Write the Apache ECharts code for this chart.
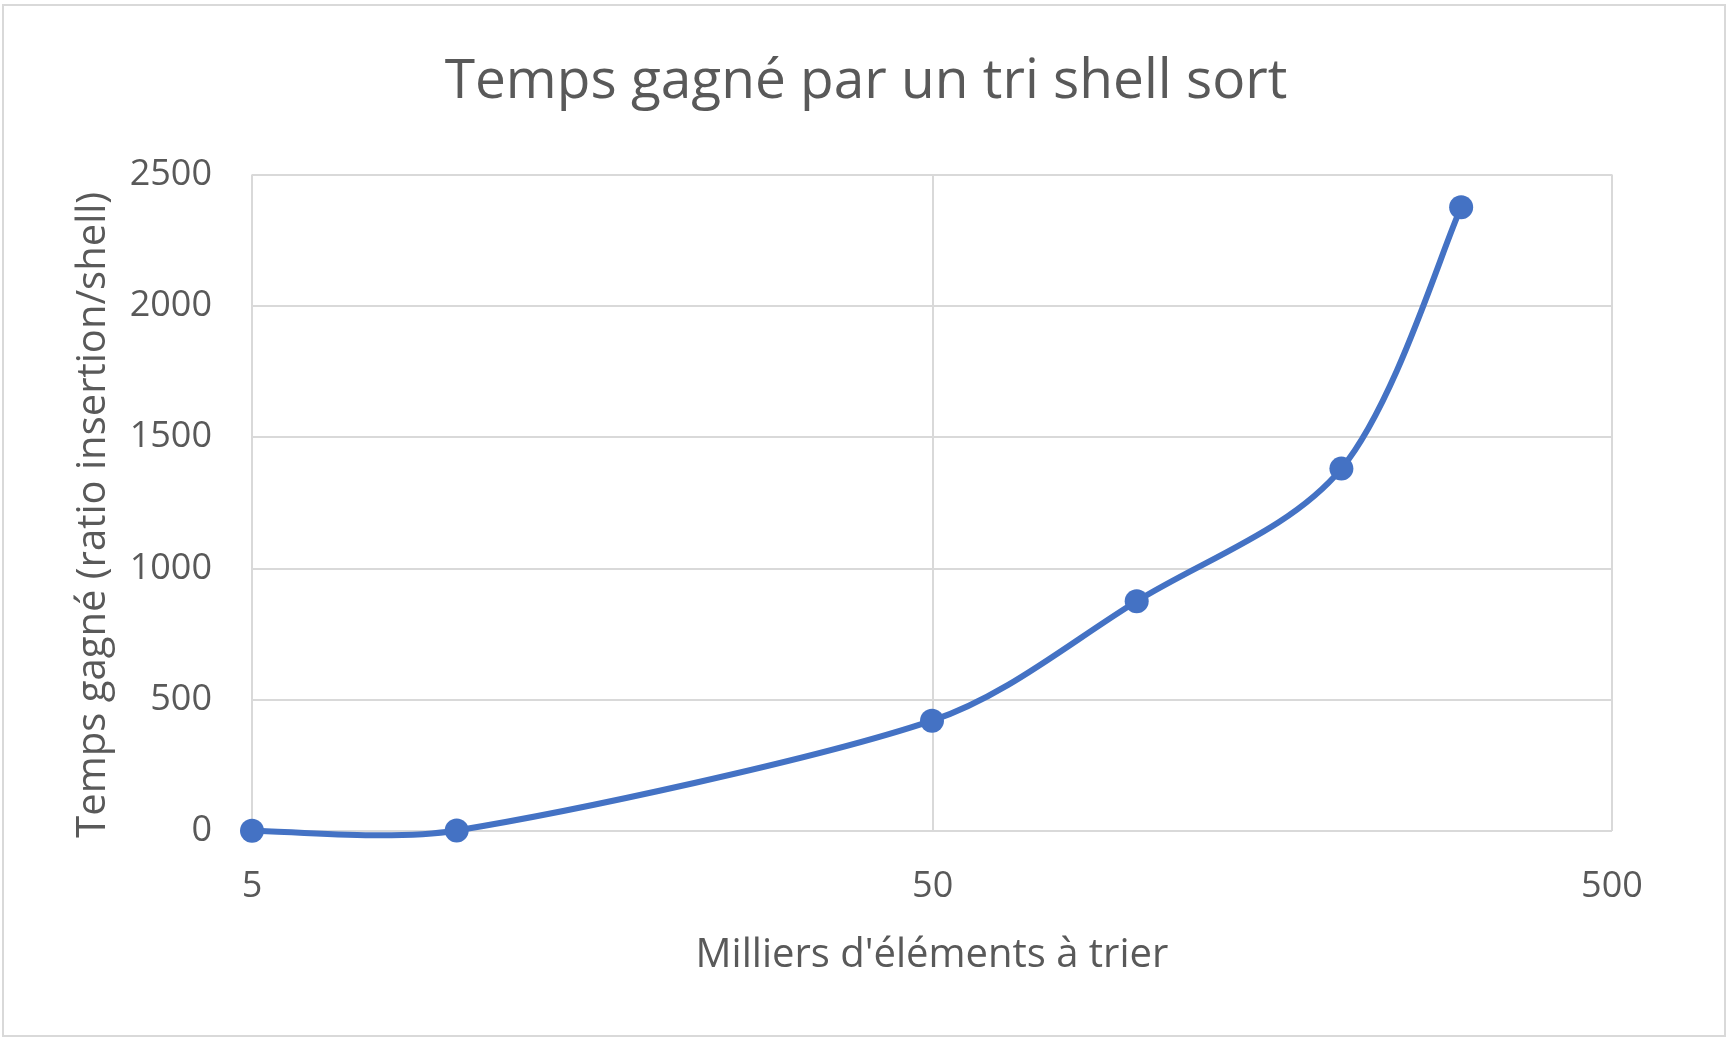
<!DOCTYPE html>
<html>
<head>
<meta charset="utf-8">
<script src="https://cdn.jsdelivr.net/npm/echarts@6/dist/echarts.min.js"></script>
<style>
html,body{margin:0;padding:0;background:#fff;}
#chart{width:1732px;height:1045px;}
</style>
</head>
<body>
<div id="chart"></div>
<script>
const titleText = "Temps gagné par un tri shell sort";
const xAxisTitle = "Milliers d'éléments à trier";
const yAxisTitle = "Temps gagné (ratio insertion/shell)";
const elements = [5, 10, 50, 100, 200, 300];
const ratios = [1, 2, 420, 875, 1380, 2375];

const textColor = '#595959';
const gridColor = '#d9d9d9';
const lineColor = '#4472C4';
const font = 'Open Sans';

const points = elements.map((e, i) => [e, ratios[i]]);

function dist(a, b) { return Math.hypot(a[0] - b[0], a[1] - b[1]) || 1e-6; }

// control points for point c with neighbours a (prev) and b (next)
function ctrl(a, c, b) {
  const tx = b[0] - a[0], ty = b[1] - a[1];
  const dp = dist(a, c), dn = dist(c, b);
  const kin = Math.min(1 / 6, dp / (dp + dn) / 3);
  const kout = Math.min(1 / 6, dn / (dp + dn) / 3);
  return {
    inp: [c[0] - tx * kin, c[1] - ty * kin],
    out: [c[0] + tx * kout, c[1] + ty * kout]
  };
}

function renderSegment(params, api) {
  const i = params.dataIndex;
  const n = points.length;
  if (i >= n - 1) return null;
  const p = j => api.coord(points[Math.max(0, Math.min(n - 1, j))]);
  const p0 = p(i - 1), p1 = p(i), p2 = p(i + 1), p3 = p(i + 2);
  const c1 = ctrl(p0, p1, p2).out;
  const c2 = ctrl(p1, p2, p3).inp;
  return {
    type: 'bezierCurve',
    shape: {
      x1: p1[0], y1: p1[1],
      cpx1: c1[0], cpy1: c1[1],
      cpx2: c2[0], cpy2: c2[1],
      x2: p2[0], y2: p2[1]
    },
    style: { stroke: lineColor, lineWidth: 6, fill: null, lineCap: 'round' }
  };
}

const chart = echarts.init(document.getElementById('chart'));
chart.setOption({
  animation: false,
  backgroundColor: '#fff',
  title: {
    text: titleText,
    left: 'center',
    top: 50,
    textStyle: { fontFamily: font, fontSize: 55, fontWeight: 'normal', color: textColor }
  },
  grid: { left: 252, right: 120, top: 174.5, bottom: 214, containLabel: false },
  xAxis: {
    type: 'log',
    logBase: 10,
    min: 5,
    max: 500,
    interval: 1,
    name: xAxisTitle,
    nameLocation: 'middle',
    nameGap: 105,
    nameTextStyle: { fontFamily: font, fontSize: 40, color: textColor },
    axisLine: { show: false },
    axisTick: { show: false },
    axisLabel: {
      fontFamily: font, fontSize: 36, color: textColor, margin: 38,
      formatter: v => String(Number(Number(v).toPrecision(2)))
    },
    splitLine: { show: true, lineStyle: { color: gridColor, width: 2 } },
    minorSplitLine: { show: false }
  },
  yAxis: {
    type: 'value',
    min: 0,
    max: 2500,
    interval: 500,
    name: yAxisTitle,
    nameLocation: 'middle',
    nameGap: 138,
    nameTextStyle: { fontFamily: font, fontSize: 40, color: textColor, padding: [0, 24, 0, 0] },
    axisLine: { show: false },
    axisTick: { show: false },
    axisLabel: { fontFamily: font, fontSize: 36, color: textColor, margin: 40, formatter: v => String(v) },
    splitLine: { show: true, lineStyle: { color: gridColor, width: 2 } }
  },
  graphic: [{
    type: 'rect',
    shape: { x: 3, y: 5, width: 1722, height: 1031 },
    style: { fill: 'none', stroke: gridColor, lineWidth: 2 },
    silent: true
  }],
  series: [{
    type: 'custom',
    coordinateSystem: 'cartesian2d',
    data: points,
    encode: { x: 0, y: 1 },
    renderItem: renderSegment,
    z: 2,
    silent: true
  }, {
    type: 'line',
    data: points,
    symbol: 'circle',
    symbolSize: 24,
    lineStyle: { width: 0, opacity: 0 },
    itemStyle: { color: lineColor },
    z: 3
  }]
});
</script>
</body>
</html>
